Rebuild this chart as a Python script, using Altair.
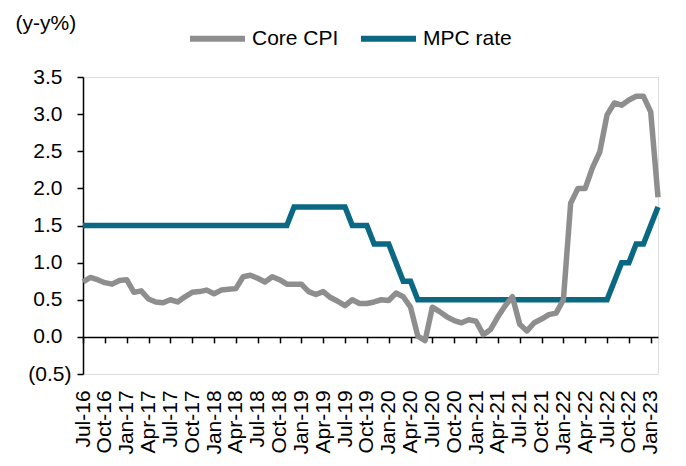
import altair as alt
import pandas as pd

# Monthly categories, Jul-16 .. Feb-23
months = list(pd.date_range("2016-07-01", "2023-02-01", freq="MS").strftime("%b-%y"))
tick_labels = months[::3][:27]  # Jul-16, Oct-16, ..., Jan-23

core_cpi = [
    0.74, 0.80, 0.77, 0.73, 0.71, 0.76,          # Jul-16 .. Dec-16
    0.77, 0.60, 0.62, 0.51, 0.47, 0.46,          # Jan-17 .. Jun-17
    0.50, 0.47, 0.54, 0.60, 0.61, 0.63,          # Jul-17 .. Dec-17
    0.58, 0.63, 0.64, 0.65, 0.81, 0.83,          # Jan-18 .. Jun-18
    0.79, 0.74, 0.81, 0.77, 0.71, 0.71,          # Jul-18 .. Dec-18
    0.71, 0.61, 0.57, 0.61, 0.53, 0.48,          # Jan-19 .. Jun-19
    0.42, 0.50, 0.45, 0.45, 0.47, 0.50,          # Jul-19 .. Dec-19
    0.49, 0.59, 0.54, 0.40, 0.01, -0.05,         # Jan-20 .. Jun-20
    0.40, 0.34, 0.27, 0.22, 0.19, 0.23,          # Jul-20 .. Dec-20
    0.21, 0.03, 0.10, 0.27, 0.42, 0.54,          # Jan-21 .. Jun-21
    0.17, 0.08, 0.19, 0.24, 0.30, 0.32,          # Jul-21 .. Dec-21
    0.50, 1.80, 2.00, 2.00, 2.28, 2.49,          # Jan-22 .. Jun-22
    2.99, 3.15, 3.12, 3.19, 3.24, 3.24,          # Jul-22 .. Dec-22
    3.03, 1.88,                                  # Jan-23 .. Feb-23
]

mpc_rate = (
    [1.50] * 29      # Jul-16 .. Nov-18
    + [1.75] * 8     # Dec-18 .. Jul-19
    + [1.50] * 3     # Aug-19 .. Oct-19
    + [1.25] * 3     # Nov-19 .. Jan-20
    + [1.00]         # Feb-20
    + [0.75] * 2     # Mar-20 .. Apr-20
    + [0.50] * 27    # May-20 .. Jul-22
    + [0.75]         # Aug-22
    + [1.00] * 2     # Sep-22 .. Oct-22
    + [1.25] * 2     # Nov-22 .. Dec-22
    + [1.50]         # Jan-23
    + [1.75]         # Feb-23
)

series_names = ["Core CPI", "MPC rate"]
series_colors = ["#8e8e8e", "#0b6882"]
y_ticks = [-0.5, 0.0, 0.5, 1.0, 1.5, 2.0, 2.5, 3.0, 3.5]

df = pd.DataFrame({
    "month": months * 2,
    "value": core_cpi + mpc_rate,
    "series": ["Core CPI"] * len(months) + ["MPC rate"] * len(months),
})

FONT = "Liberation Sans"
W, H = 575, 297

x_enc = alt.X(
    "month:O",
    sort=months,
    scale=alt.Scale(type="point", padding=0),
    axis=alt.Axis(
        values=tick_labels,
        title=None,
        labelAngle=-90,
        labelAlign="right",
        labelBaseline="middle",
        labelFont=FONT,
        labelFontSize=21,
        labelColor="black",
        labelPadding=47,
        tickSize=6,
        tickWidth=1.5,
        tickColor="black",
        domainColor="black",
        domainWidth=1.5,
        offset=-(H * 0.5 / 4.0),
        grid=False,
    ),
)

y_enc = alt.Y(
    "value:Q",
    scale=alt.Scale(domain=[-0.5, 3.5], nice=False, zero=False),
    axis=alt.Axis(
        values=y_ticks,
        title="(y-y%)",
        titleAngle=0,
        titleAlign="left",
        titleBaseline="middle",
        titleX=-68,
        titleY=-54,
        titleFont=FONT,
        titleFontSize=21,
        titleFontWeight="normal",
        titleColor="black",
        labelExpr="datum.value < 0 ? '(' + format(-datum.value, '.1f') + ')' : format(datum.value, '.1f')",
        labelFont=FONT,
        labelFontSize=21,
        labelColor="black",
        labelPadding={"condition": {"test": "datum.value < 0", "value": 6}, "value": 15},
        tickSize=6,
        tickWidth=1.5,
        tickColor="black",
        domainColor="black",
        domainWidth=1.5,
        grid=False,
    ),
)

color_enc = alt.Color(
    "series:N",
    scale=alt.Scale(domain=series_names, range=series_colors),
    legend=alt.Legend(
        title=None,
        orient="none",
        legendX=104,
        legendY=-69,
        direction="horizontal",
        symbolType="stroke",
        symbolSize=3025,
        symbolStrokeWidth=6,
        labelFont=FONT,
        labelFontSize=21,
        labelColor="black",
        labelOffset=4,
        columnPadding=10,
        padding=0,
    ),
)

mpc_layer = alt.Chart(df).transform_filter(alt.datum.series == "MPC rate").mark_line(
    strokeWidth=5.5, strokeJoin="miter"
).encode(x=x_enc, y=y_enc, color=color_enc)

cpi_layer = alt.Chart(df).transform_filter(alt.datum.series == "Core CPI").mark_line(
    strokeWidth=5.5, strokeJoin="round"
).encode(x=x_enc, y=y_enc, color=color_enc)

chart = alt.layer(mpc_layer, cpi_layer).properties(
    width=W,
    height=H,
    autosize=alt.AutoSizeParams(type="none"),
    padding={"left": 75, "top": 69, "right": 20, "bottom": 85},
).configure_view(stroke=None).configure(background="white")

chart.save("out.html", embed_options={"renderer": "svg", "actions": False})
